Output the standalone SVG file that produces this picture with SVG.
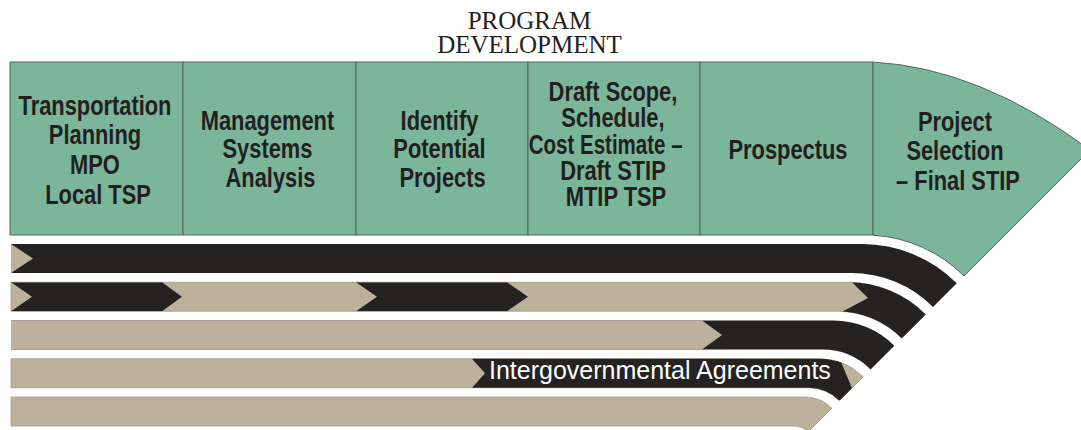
<svg xmlns="http://www.w3.org/2000/svg" width="1081" height="430" viewBox="0 0 1081 430">
  <style>
    .cell { fill: #7bb59a; stroke: #4f6b5e; stroke-width: 1; }
    .hd { font-family: "Liberation Sans", Arial, sans-serif; font-weight: bold; font-size: 27px; fill: #231f20; text-anchor: middle; }
    .title { font-family: "Liberation Serif", "Times New Roman", serif; font-size: 25px; fill: #231f20; text-anchor: middle; }
    .tan { fill: #bcb29b; }
    .blk { fill: #242322; }
    .band-tan { fill: #bcb29b; stroke: #a29b8c; stroke-width: 0.8; }
    .band-blk { fill: #242322; }
    .lbl { font-family: "Liberation Sans", Arial, sans-serif; font-size: 25px; fill: #ffffff; }
  </style>
  <defs>
    <clipPath id="clipB2">
      <path d="M11,282.25 H847.75 A110,110 0 0 1 925.53,314.47 L901.8,338.2 A92,92 0 0 0 836.75,311.25 H11 Z"/>
    </clipPath>
    <clipPath id="clipB4">
      <path d="M11,358.75 H819.25 A62,62 0 0 1 863.09,376.91 L839.36,400.64 A44,44 0 0 0 808.25,387.75 H11 Z"/>
    </clipPath>
  </defs>

  <rect x="0" y="0" width="1081" height="430" fill="#ffffff"/>

  <!-- heading -->
  <g id="title">
    <text class="title" x="529.5" y="29.3">PROGRAM</text>
    <text class="title" x="529.5" y="53.3">DEVELOPMENT</text>
  </g>

  <!-- phase cells -->
  <g id="cell-transportation-planning">
    <rect class="cell" x="10" y="62" width="173" height="173"/>
    <text class="hd" transform="translate(98,0) scale(0.81,1)">
      <tspan x="0" y="115">Transportation</tspan>
      <tspan x="0" y="144.5">Planning</tspan>
      <tspan x="0" y="174.5">MPO</tspan>
      <tspan x="0" y="204">Local TSP</tspan>
    </text>
  </g>
  <g id="cell-management-systems">
    <rect class="cell" x="183" y="62" width="173" height="173"/>
    <text class="hd" transform="translate(270.5,0) scale(0.81,1)">
      <tspan x="0" y="130">Management</tspan>
      <tspan x="0" y="158.5">Systems</tspan>
      <tspan x="0" y="187">Analysis</tspan>
    </text>
  </g>
  <g id="cell-identify-projects">
    <rect class="cell" x="356" y="62" width="172" height="173"/>
    <text class="hd" transform="translate(442.5,0) scale(0.81,1)">
      <tspan x="0" y="130">Identify</tspan>
      <tspan x="0" y="158.5">Potential</tspan>
      <tspan x="0" y="187">Projects</tspan>
    </text>
  </g>
  <g id="cell-draft-scope">
    <rect class="cell" x="528" y="62" width="172" height="173"/>
    <text class="hd" transform="translate(616,0) scale(0.81,1)">
      <tspan x="0" y="101.5">Draft Scope,</tspan>
      <tspan x="0" y="127.5">Schedule,</tspan>
      <tspan x="-9" y="154" textLength="190" lengthAdjust="spacingAndGlyphs">Cost Estimate –</tspan>
      <tspan x="0" y="180">Draft STIP</tspan>
      <tspan x="0" y="206.5">MTIP TSP</tspan>
    </text>
  </g>
  <g id="cell-prospectus">
    <rect class="cell" x="700" y="62" width="173" height="173"/>
    <text class="hd" transform="translate(788,0) scale(0.81,1)">
      <tspan x="0" y="159">Prospectus</tspan>
    </text>
  </g>
  <g id="cell-project-selection">
    <path class="cell" d="M873,62 Q980,68 1090,150 L964,276 A140,140 0 0 0 873,235.2 Z"/>
    <text class="hd" transform="translate(958,0) scale(0.81,1)">
      <tspan x="0" y="131.5">Project</tspan>
      <tspan x="0" y="160.5">Selection</tspan>
      <tspan x="0" y="190">– Final STIP</tspan>
    </text>
  </g>

  <!-- activity tracks sweeping round into the selection phase -->
  <g id="tracks">
    <g id="track-1">
      <path class="band-blk" d="M11,244 H862 A134,134 0 0 1 956.75,283.25 L933.02,306.98 A116,116 0 0 0 851,273 H11 Z"/>
      <polygon class="tan" points="11,244 33,258.5 11,273"/>
    </g>
    <g id="track-2">
      <path class="band-tan" d="M11,282.25 H847.75 A110,110 0 0 1 925.53,314.47 L901.8,338.2 A92,92 0 0 0 836.75,311.25 H11 Z"/>
      <g clip-path="url(#clipB2)">
        <polygon class="blk" points="11,282.25 162,282.25 182,296.75 162,311.25 11,311.25 32,296.75"/>
        <polygon class="blk" points="356,282.25 507,282.25 528,296.75 507,311.25 356,311.25 377,296.75"/>
        <polygon class="blk" points="852,270 1100,270 1100,345 843,345 843,311.25 868,298 852,282.25"/>
      </g>
    </g>
    <g id="track-3">
      <path class="band-blk" d="M11,320.5 H833.5 A86,86 0 0 1 894.31,345.69 L870.58,369.42 A68,68 0 0 0 822.5,349.5 H11 Z"/>
      <polygon class="tan" points="11,320.5 702,320.5 722,335 702,349.5 11,349.5"/>
    </g>
    <g id="track-4">
      <path class="band-tan" d="M11,358.75 H819.25 A62,62 0 0 1 863.09,376.91 L839.36,400.64 A44,44 0 0 0 808.25,387.75 H11 Z"/>
      <g clip-path="url(#clipB4)">
        <polygon class="blk" points="472,350 836,350 857,400 472,400 472,387.75 485,373.25 472,358.75"/>
      </g>
      <text class="lbl" x="489" y="379">Intergovernmental Agreements</text>
    </g>
    <g id="track-5">
      <path class="band-tan" d="M11,397 H805 A38,38 0 0 1 831.87,408.13 L808.14,431.86 A20,20 0 0 0 794,426 H11 Z"/>
    </g>
  </g>
</svg>
